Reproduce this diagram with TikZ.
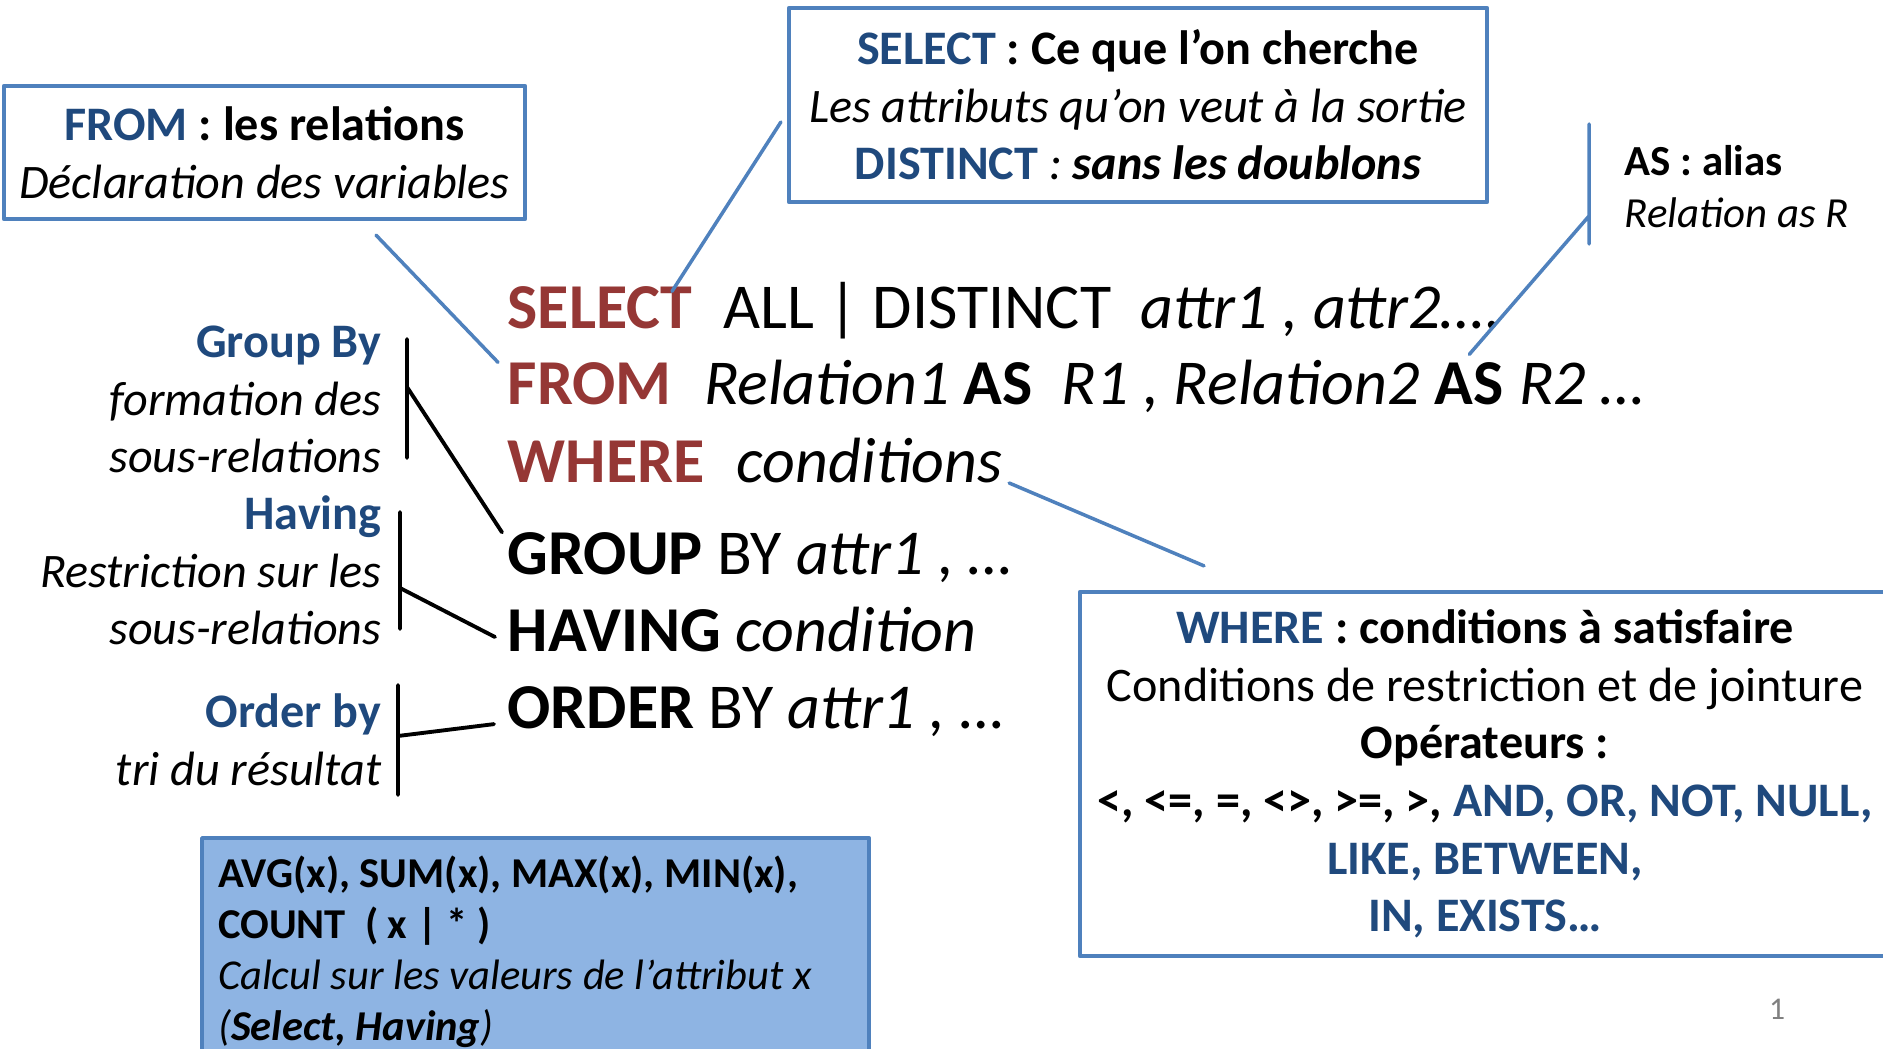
\documentclass[tikz,border=0pt]{standalone}
\usepackage{fontspec}
\setmainfont{Carlito}
\definecolor{sqlred}{HTML}{953735}
\definecolor{sqlblue}{HTML}{1F497D}
\definecolor{boxline}{HTML}{4F81BD}
\definecolor{boxfill}{HTML}{8EB4E3}
\newcommand\kb[1]{\textcolor{sqlblue}{\textbf{\textup{#1}}}}
\begin{document}
\begin{tikzpicture}[x=1mm,y=-1mm,line join=round,line cap=round,
 sql/.style={anchor=base west,inner sep=0,font=\fontsize{18.2}{21}\selectfont},
 kw/.style={sql,font=\fontsize{18.2}{21}\selectfont\bfseries,text=sqlred},
 box/.style={draw=boxline,line width=1.2pt,align=center,inner sep=0,font=\fontsize{13.7}{16.4}\selectfont},
 lbl/.style={anchor=north east,inner sep=0,align=right,font=\fontsize{13.7}{16.4}\selectfont\itshape},
 link/.style={draw=boxline,line width=1pt},
 brk/.style={line width=1.1pt}]
 \useasboundingbox (0,0) rectangle (188.3,104.9);
 \node[box,minimum width=52.1mm,minimum height=13.3mm] (fromBox) at (26.45,15.25)
 {{\bfseries\kb{FROM} : les relations}\\{\itshape Déclaration des variables}};
 \node[box,minimum width=69.8mm,minimum height=19.4mm] (selBox) at (113.8,10.5)
 {{\bfseries\kb{SELECT} : Ce que l’on cherche}\\{\itshape Les attributs qu’on veut à la sortie}\\\kb{DISTINCT} {\itshape : \bfseries sans les doublons}};
 \node[box,minimum width=81mm,minimum height=36.4mm] (whereBox) at (148.5,77.4)
 {{\bfseries\kb{WHERE} : conditions à satisfaire}\\Conditions de restriction et de jointure\\{\bfseries Opérateurs :}\\
 {\bfseries <, <=, =, <>, >=, >, \kb{AND, OR, NOT, NULL,}}\\\kb{LIKE, BETWEEN,}\\\kb{IN, EXISTS…}};
 \node[box,fill=boxfill,anchor=north west,align=flush left,text width=63.5mm,inner xsep=1.6mm,inner ysep=1.4mm,
 font=\fontsize{12.1}{14.5}\selectfont] (aggr) at (20,83.6)
 {\strut{\bfseries AVG(x), SUM(x), MAX(x), MIN(x),}\\{\bfseries COUNT\ \ ( x | * )}\\{\itshape Calcul sur les valeurs de l'attribut x}\\{\itshape (\textbf{Select, Having})}};
 \node[anchor=north west,inner sep=0,align=left,font=\fontsize{12.2}{14.8}\selectfont] (asLbl) at (162.4,13.8)
 {\strut\textbf{AS : alias}\\\textit{Relation as R}};
 \node[lbl] (grpLbl) at (38.2,31.65) {\strut\kb{Group By}\\formation des\\sous-relations};
 \node[lbl] (havLbl) at (38.2,48.85) {\strut\kb{Having}\\Restriction sur les\\sous-relations};
 \node[lbl] (ordLbl) at (38.2,68.65) {\strut\kb{Order by}\\tri du résultat};
 \node[kw] (selKw) at (50.7,32.9) {SELECT};
 \node[sql,xshift=3mm] (selRest) at (selKw.base east) {ALL | DISTINCT\ \ \textit{attr1 , attr2….}};
 \node[kw] (fromKw) at (50.7,40.5) {FROM};
 \node[sql,xshift=3.1mm] (fromRest) at (fromKw.base east) {\textit{Relation1} \textbf{AS}\ \ \textit{R1 , Relation2}};
 \node[sql,xshift=1.4mm] (asKw) at (fromRest.base east) {\textbf{AS}};
 \node[sql,xshift=1.4mm] (asTail) at (asKw.base east) {\textit{R2 …}};
 \node[kw] (whereKw) at (50.7,48.3) {WHERE};
 \node[sql,xshift=3.1mm] (whereRest) at (whereKw.base east) {\textit{conditions}};
 \node[sql] (groupLn) at (50.7,57.5) {\textbf{GROUP} BY \textit{attr1 , …}};
 \node[sql] (havingLn) at (50.7,65.2) {\textbf{HAVING} \textit{condition}};
 \node[sql] (orderLn) at (50.7,72.9) {\textbf{ORDER} BY \textit{attr1 , …}};
 \node[text=gray,font=\fontsize{9}{11}\selectfont] (pgNum) at (177.7,100.9) {1};
 \draw[link] ([shift={(11.15,1.4)}]fromBox.south) -- ([shift={(-0.9,0)}]fromKw.north west);
 \draw[link] ([shift={(-0.6,1.7)}]selBox.west) -- ([shift={(-2.1,0.5)}]selKw.north east);
 \draw[link] ([xshift=.6mm]whereRest.base east) -- ([shift={(-28.1,-2.4)}]whereBox.north);
 \draw[link] (158.9,12.4) -- (158.9,24.4) (158.9,21.6) -- ([yshift=.8mm]asKw.north);
 \draw[brk] (40.7,33.9) -- (40.7,45.8) (40.7,38.7) -- ([xshift=-.5mm]groupLn.north west);
 \draw[brk] (40,51.2) -- (40,62.9) (40,58.8) -- ([shift={(-1.2,0.7)}]havingLn.west);
 \draw[brk] (39.8,68.5) -- (39.8,79.5) (39.8,73.6) -- ([shift={(-1.3,1.2)}]orderLn.west);
\end{tikzpicture}
\end{document}
